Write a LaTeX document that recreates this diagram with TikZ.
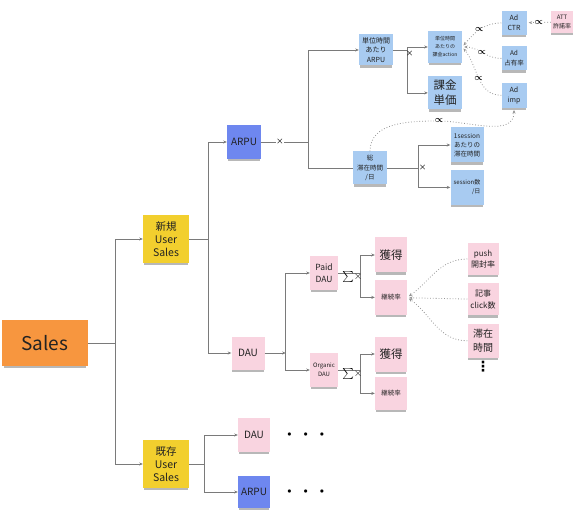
\documentclass[tikz,border=0pt]{standalone}
\usepackage{amsmath}
\usepackage{fontspec}
\setmainfont{Noto Sans CJK JP}
\newfontfamily\symfont{DejaVu Sans}
\usetikzlibrary{arrows.meta, positioning, shadows}

\definecolor{salesorange}{HTML}{F7963F}
\definecolor{noteyellow}{HTML}{F2CF2E}
\definecolor{noteblue}{HTML}{A8CBF1}
\definecolor{notedeep}{HTML}{6E87EF}
\definecolor{notepink}{HTML}{F9D4E0}
\definecolor{ink}{HTML}{222222}
\definecolor{linegray}{HTML}{7A7A7A}

\newcommand{\notesize}[2]{\fontsize{#1}{#2}\selectfont}

\begin{document}
\begin{tikzpicture}[x=1pt, y=-1pt,
		note/.style={inner sep=0pt, align=center, text=ink,
			general shadow={fill=black, opacity=0.28, shadow yshift=-3pt, shadow scale=0.96}},
		salesnote/.style={note, fill=salesorange},
		yellownote/.style={note, fill=noteyellow},
		bluenote/.style={note, fill=noteblue},
		deepnote/.style={note, fill=notedeep},
		pinknote/.style={note, fill=notepink},
		box/.style 2 args={minimum width=#1, minimum height=#2},
		wire/.style={draw=linegray, line width=0.6pt},
		arr/.style={wire, -{Stealth[length=3.5pt, width=3pt]}},
		dep/.style={draw=linegray!80, line width=0.8pt, dotted, -{Stealth[length=3.5pt, width=3pt]}, shorten >=2pt},
		times/.style={font=\notesize{8}{8}, inner sep=0.5pt, text=black},
		prop/.style={font=\notesize{9}{9}, inner sep=0.6pt, fill=white, text=black}
		]
		\useasboundingbox (0,0) rectangle (586,521);
		
		% tree
		\node[salesnote, box={86pt}{46pt}, font=\notesize{19}{23}] (sales) at (45,343) {Sales};
		\node[yellownote, box={46pt}{48pt}, font=\notesize{10.5}{13}] (newus) at (166,239) {新規\\User\\Sales};
		\node[yellownote, box={46pt}{48pt}, font=\notesize{10.5}{13}] (oldus) at (166,464) {既存\\User\\Sales};
		\node[deepnote, box={34pt}{34pt}, font=\notesize{10}{12}] (arpu) at (244,142) {ARPU};
		\node[pinknote, box={33pt}{33pt}, font=\notesize{10}{12}] (dau) at (248,353) {DAU};
		
		% ARPU side
		\node[bluenote, box={34pt}{31pt}, font=\notesize{7}{9.5}] (uarpu) at (376,50) {単位時間\\あたり\\ARPU};
		\node[bluenote, box={34pt}{32pt}, font=\notesize{5}{8}] (uact) at (445,47) {単位時間\\あたりの\\課金action};
		\node[bluenote, box={34pt}{33pt}, font=\notesize{11.5}{15}, below=13pt of uact] (tanka) {課金\\単価};
		\node[bluenote, box={25pt}{24pt}, font=\notesize{7}{10}] (adctr) at (514,23) {Ad\\CTR};
		\node[bluenote, box={25pt}{24pt}, font=\notesize{6.5}{10}, below=11pt of adctr] (adshare) {Ad\\占有率};
		\node[bluenote, box={25pt}{25pt}, font=\notesize{7}{10}, below=12pt of adshare] (adimp) {Ad\\imp};
		\node[pinknote, box={22pt}{22pt}, font=\notesize{6}{8.5}] (att) at (562,22) {ATT\\許諾率};
		\node[bluenote, box={34pt}{33pt}, font=\notesize{6.5}{9.5}] (total) at (370,168) {総\\滞在時間\\/日};
		\node[bluenote, box={33pt}{35pt}, font=\notesize{6.5}{9}] (sess1) at (467,145) {1session\\あたりの\\滞在時間};
		\node[bluenote, box={33pt}{35pt}, font=\notesize{6}{9}, align=right, below=7pt of sess1] (sessn) {session数\\/日};
		
		% DAU side
		\node[pinknote, box={28pt}{33pt}, font=\notesize{8.5}{12.5}] (paid) at (324,273) {Paid\\DAU};
		\node[pinknote, box={28pt}{34pt}, font=\notesize{6}{9}] (organic) at (324,370) {Organic\\DAU};
		\node[pinknote, box={32pt}{35pt}, font=\notesize{11.5}{14}] (get1) at (391,255) {獲得};
		\node[pinknote, box={32pt}{35pt}, font=\notesize{6.5}{9}, below=7pt of get1] (keep1) {継続率};
		\node[pinknote, box={32pt}{35pt}, font=\notesize{11.5}{14}] (get2) at (391,354) {獲得};
		\node[pinknote, box={32pt}{33pt}, font=\notesize{6.5}{9}, below=5pt of get2] (keep2) {継続率};
		\node[pinknote, box={31pt}{32pt}, font=\notesize{8}{11.5}] (push) at (483,259) {push\\開封率};
		\node[pinknote, box={31pt}{32pt}, font=\notesize{8}{11.5}, below=8pt of push] (kiji) {記事\\click数};
		\node[pinknote, box={31pt}{34pt}, font=\notesize{10}{14}, below=8pt of kiji] (taizai) {滞在\\時間};
		\node[inner sep=0pt, font=\symfont\bfseries\notesize{14}{14}, below=3pt of taizai] (more) {⋮};
		
		% existing users
		\node[pinknote, box={32pt}{34pt}, font=\notesize{10}{12}] (dau2) at (254,435) {DAU};
		\node[deepnote, box={32pt}{32pt}, font=\notesize{10}{12}] (arpu2) at (254,492) {ARPU};
		\node[inner sep=0pt, font=\notesize{8}{8}, right=17pt of dau2] (more2) {$\bullet$\hspace{12pt}$\bullet$\hspace{12pt}$\bullet$};
		\node[inner sep=0pt, font=\notesize{8}{8}, right=17pt of arpu2] (more3) {$\bullet$\hspace{12pt}$\bullet$\hspace{12pt}$\bullet$};
		
		% junctions
		\coordinate (salesj) at ([xshift=27pt]sales.east);
		\coordinate (newj) at ([xshift=19pt]newus.east);
		\coordinate (oldj) at ([xshift=15pt]oldus.east);
		\coordinate (arpuj) at ([xshift=47pt]arpu.east);
		\coordinate (uarpuj) at ([xshift=14pt]uarpu.east);
		\coordinate (totalj) at ([xshift=31pt]total.east);
		\coordinate (dauj) at ([xshift=21pt]dau.east);
		\coordinate (paidj) at ([xshift=22pt]paid.east);
		\coordinate (organicj) at ([xshift=22pt]organic.east);
		\coordinate (totmid) at (439,121);
		
		\foreach \s/\t in {sales/salesj, newus/newj, oldus/oldj, uarpu/uarpuj, total/totalj, paid/paidj, organic/organicj}
		\draw[wire] (\s) -- (\t);
		\draw[arr] (dau) -- (dauj);
		\draw[wire] (arpuj) |- (total);
		\draw[wire] (arpu) -- node[times, fill=white, pos=0.4] (x1) {$\boldsymbol{\times}$} (arpuj);
		\foreach \s/\t in {salesj/newus, salesj/oldus, newj/arpu, newj/dau, arpuj/uarpu, uarpuj/uact, uarpuj/tanka, totalj/sess1, totalj/sessn, dauj/paid, dauj/organic, paidj/get1, paidj/keep1, organicj/get2, organicj/keep2, oldj/dau2, oldj/arpu2}
		\draw[arr] (\s) |- (\t);
		
		\node[times, below right=0pt and -2pt of uarpuj] (x2) {$\boldsymbol{\times}$};
		\node[times, right=0pt of totalj] (x3) {$\boldsymbol{\times}$};
		\node[times, font=\notesize{11}{11}, anchor=north east] (s1) at ([xshift=3pt, yshift=2pt]paidj) {$\sum\!\times$};
		\node[times, font=\notesize{11}{11}, anchor=north east] (s2) at ([xshift=3pt, yshift=2pt]organicj) {$\sum\!\times$};
		
		% proportional links
		\draw[dep] (adctr) to[out=180, in=50] node[prop] (p1) {$\boldsymbol{\propto}$} (uact.east);
		\draw[dep] (adshare) to[out=180, in=0] node[prop] (p2) {$\boldsymbol{\propto}$} (uact.east);
		\draw[dep] (adimp) to[out=180, in=-50] node[prop] (p3) {$\boldsymbol{\propto}$} (uact.east);
		\draw[dep] (att) -- node[prop] (p4) {$\boldsymbol{\propto}$} (adctr);
		\draw[dep] (total) to[out=90, in=180] node[prop, at end] (p5) {$\boldsymbol{\propto}$} (totmid) to[out=0, in=-90] (adimp);
		\draw[dep] (push) to[out=180, in=35] (keep1.east);
		\draw[dep] (kiji) -- (keep1);
		\draw[dep] (taizai) to[out=180, in=-35] (keep1.east);
	\end{tikzpicture}
\end{document}
